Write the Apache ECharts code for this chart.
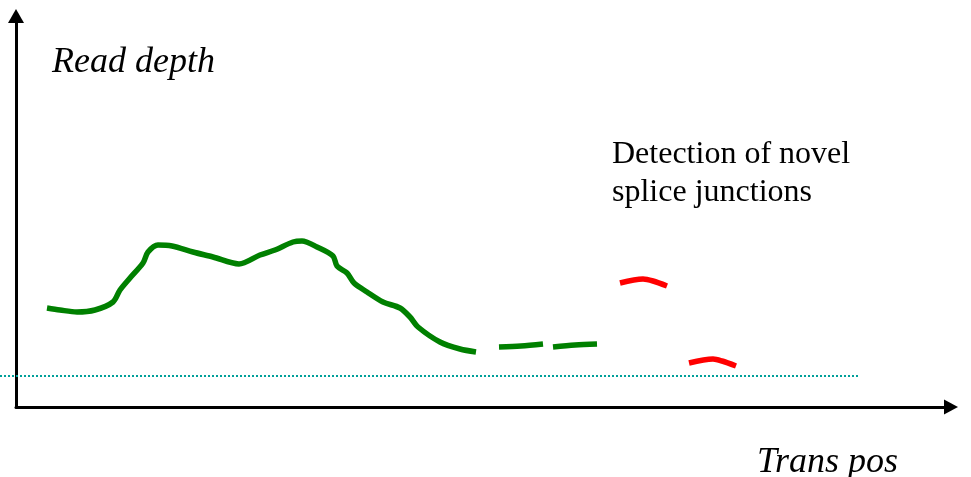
<!DOCTYPE html>
<html>
<head>
<meta charset="utf-8">
<script src="https://cdn.jsdelivr.net/npm/echarts@6/dist/echarts.min.js"></script>
<style>
  html, body { margin: 0; padding: 0; background: #fff; }
  #container { width: 971px; height: 477px; }
</style>
</head>
<body>
<div id="container"></div>
<script>
// schematic values: [transcript position, read depth]
const coverageCurve = [
    [31, 99], [44, 97], [61, 95], [79, 97], [97, 105], [104, 117], [114, 129],
    [127, 144], [132, 155], [142, 162], [156, 161], [177, 155], [197, 150],
    [223, 143], [244, 152], [259, 157], [277, 165], [286, 166], [301, 160],
    [317, 151], [321, 141], [331, 134], [338, 124], [351, 115], [367, 105],
    [384, 99], [394, 90], [402, 80], [424, 65], [444, 58], [460, 55]
];
const knownDash1 = [[483, 60], [505, 61], [527, 63]];
const knownDash2 = [[537, 60], [559, 62], [581, 63]];
const novelDash1 = [[604, 124], [627, 128], [637, 126], [651, 121]];
const novelDash2 = [[673, 44], [697, 48], [706, 46], [720, 41]];
const baseline = [[-16, 31], [844, 31]];

const xName = 'Trans pos';
const yName = 'Read depth';
const noteLines = ['Detection of novel', 'splice junctions'];

let dom = document.getElementById('container');
let myChart = echarts.init(dom);

const serif = "'Liberation Serif', 'Times New Roman', serif";
const green = '#008000';
const red = '#ff0000';

function seg(data, color) {
    return {
        type: 'line',
        data: data,
        smooth: 0.3,
        showSymbol: false,
        silent: true,
        z: 3,
        lineStyle: { color: color, width: 5.5, cap: 'butt', join: 'round' }
    };
}

const hiddenAxis = {
    type: 'value',
    show: false
};

let option = {
    animation: false,
    backgroundColor: '#fff',
    grid: [
        { left: 16, right: 20, top: 16, bottom: 70 },
        // same scale, widened to the left edge for the reference line
        { left: 0, right: 20, top: 16, bottom: 70 }
    ],
    xAxis: [
        {
            type: 'value',
            gridIndex: 0,
            min: 0,
            max: 935,
            axisLine: {
                onZero: false,
                symbol: ['none', 'triangle'],
                symbolSize: [15, 14],
                lineStyle: { color: '#000', width: 3 }
            },
            axisTick: { show: false },
            axisLabel: { show: false },
            splitLine: { show: false }
        },
        Object.assign({ gridIndex: 1, min: -16, max: 935 }, hiddenAxis)
    ],
    yAxis: [
        {
            type: 'value',
            gridIndex: 0,
            min: 0,
            max: 391,
            axisLine: {
                show: true,
                onZero: false,
                symbol: ['none', 'triangle'],
                symbolSize: [16, 14],
                lineStyle: { color: '#000', width: 3 }
            },
            axisTick: { show: false },
            axisLabel: { show: false },
            splitLine: { show: false }
        },
        Object.assign({ gridIndex: 1, min: 0, max: 391 }, hiddenAxis)
    ],
    graphic: [
        {
            type: 'text', left: 52, top: 45,
            style: { text: yName, font: 'italic 36px ' + serif, fill: '#000' }
        },
        {
            type: 'text', left: 757, top: 445,
            style: { text: xName, font: 'italic 36px ' + serif, fill: '#000' }
        },
        {
            type: 'text', left: 612, top: 139,
            style: { text: noteLines[0], font: '32px ' + serif, fill: '#000' }
        },
        {
            type: 'text', left: 612, top: 177,
            style: { text: noteLines[1], font: '32px ' + serif, fill: '#000' }
        }
    ],
    series: [
        {
            type: 'line',
            xAxisIndex: 1,
            yAxisIndex: 1,
            data: baseline,
            showSymbol: false,
            silent: true,
            z: 1,
            lineStyle: { color: '#00a09a', width: 2, type: [2, 2] }
        },
        seg(coverageCurve, green),
        seg(knownDash1, green),
        seg(knownDash2, green),
        seg(novelDash1, red),
        seg(novelDash2, red)
    ]
};
myChart.setOption(option);
</script>
</body>
</html>
